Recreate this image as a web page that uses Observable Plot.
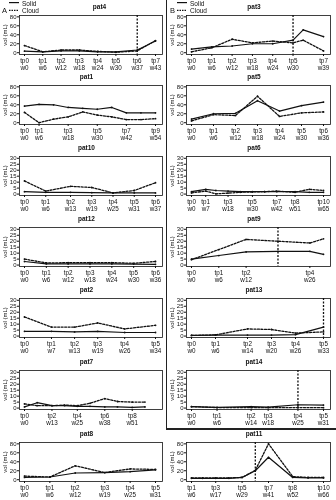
<!DOCTYPE html>
<html><head><meta charset="utf-8">
<script src="https://cdn.jsdelivr.net/npm/d3@7"></script>
<script src="https://cdn.jsdelivr.net/npm/@observablehq/plot@0.6"></script>
<style>
body{margin:0;background:#fff;font-family:"Liberation Sans",Arial,sans-serif;}
#root{position:relative;width:336px;height:500px;overflow:hidden;background:#fff;filter:grayscale(1);-webkit-font-smoothing:antialiased;}
.abs{position:absolute;}
.title{font-size:6.5px;font-weight:bold;line-height:7px;transform:translateX(-50%);white-space:nowrap;color:#111;}
.lbl{font-size:6.5px;line-height:7px;color:#111;white-space:nowrap;}
.big{font-size:7.5px;line-height:8px;color:#111;}
</style></head><body><div id="root"></div>
<script>
// ---------- data ----------
const pat4_weeks = [0,6,12,18,24,30,37,43];
const pat4_solid = [3.5,2,4,4,2,2,6,26];
const pat4_cloud = [16,2,6,6,3,1,4,27];
const pat4_tickW = [0,6,12,18,24,30,37,43];
const pat4_tickTp = ["tp0","tp1","tp2","tp3","tp4","tp5","tp6","tp7"];
const pat4_event = 37;

const pat1_weeks = [0,6,12,18,24,30,36,42,48,54];
const pat1_solid = [37,41,40,34,32,30,34,22,22,22];
const pat1_cloud = [23,0,8,13,24,17,13,7,7,9];
const pat1_tickW = [0,6,18,30,42,54];
const pat1_tickTp = ["tp0","tp1","tp3","tp5","tp7","tp9"];

const pat10_weeks = [0,6,13,19,25,31,37];
const pat10_solid = [2,1.5,1.5,1.2,1,1,1];
const pat10_cloud = [11,2.5,6.5,5.5,1,3,9.5];
const pat10_tickW = [0,6,13,19,25,31,37];
const pat10_tickTp = ["tp0","tp1","tp2","tp3","tp4","tp5","tp6"];

const pat12_weeks = [0,6,12,18,24,30,36];
const pat12_solid = [3,1,1,1,1,0.8,0.6];
const pat12_cloud = [5,1.8,2,2,2,1.5,3];
const pat12_tickW = [0,6,12,18,24,30,36];
const pat12_tickTp = ["tp0","tp1","tp2","tp3","tp4","tp5","tp6"];

const pat2_weeks = [0,7,13,19,26,34];
const pat2_solid = [4,4,3.5,4,3,3];
const pat2_cloud = [16,7.5,7.5,11,6,9];
const pat2_tickW = [0,7,13,19,26,34];
const pat2_tickTp = ["tp0","tp1","tp2","tp3","tp4","tp5"];

const pat7_weeks = [0,6,13,19,25,31,38,44,51,57];
const pat7_solid = [1,4.5,2,2,1.5,1.5,1,1,0.5,1];
const pat7_cloud = [3.5,2,2,2.5,2,4,8,5.5,5,5];
const pat7_tickW = [0,13,25,38,51];
const pat7_tickTp = ["tp0","tp2","tp4","tp6","tp8"];

const pat8_weeks = [0,6,12,19,25,31];
const pat8_solid = [5,6,15,16,18,22];
const pat8_cloud = [8,6,31,16,24,23];
const pat8_tickW = [0,6,12,19,25,31];
const pat8_tickTp = ["tp0","tp1","tp2","tp3","tp4","tp5"];

const pat3_weeks = [0,6,12,18,24,30,33,39];
const pat3_solid = [8,13,15,20,20,28,51,36];
const pat3_cloud = [2,11,30,22,26,22,28,4];
const pat3_tickW = [0,6,12,18,24,30,39];
const pat3_tickTp = ["tp0","tp1","tp2","tp3","tp4","tp5","tp7"];
const pat3_event = 30;

const pat5_weeks = [0,6,12,18,24,30,36];
const pat5_solid = [8,20,21,49,26,38,46];
const pat5_cloud = [4,18,16,59,14,22,24];
const pat5_tickW = [0,6,12,18,24,30,36];
const pat5_tickTp = ["tp0","tp1","tp2","tp3","tp4","tp5","tp6"];

const pat6_weeks = [0,7,12,18,24,30,36,42,51,58,65];
const pat6_solid = [2,4,3,2.5,2,2,2,2,2,1.5,1.5];
const pat6_cloud = [1,2.5,0.2,0.8,1.5,1.8,2,2.5,1.5,4,3];
const pat6_tickW = [0,7,18,30,42,51,65];
const pat6_tickTp = ["tp0","tp1","tp3","tp5","tp7","tp8","tp10"];

const pat9_weeks = [0,6,12,19,26,29];
const pat9_solid = [5,8,11,11.5,11.5,9];
const pat9_cloud = [4.5,13,21.5,20,18.5,22];
const pat9_tickW = [0,6,12,26];
const pat9_tickTp = ["tp0","tp1","tp2","tp4"];
const pat9_event = 19;

const pat13_weeks = [0,6,14,20,26,33];
const pat13_solid = [0.5,0.8,0.8,0.8,1.2,7.5];
const pat13_cloud = [0.5,1,6,5.5,2.5,3.5];
const pat13_tickW = [0,6,14,20,26,33];
const pat13_tickTp = ["tp0","tp1","tp2","tp3","tp4","tp5"];
const pat13_event = 33;

const pat14_weeks = [0,6,14,18,25,31];
const pat14_solid = [1.2,0.5,1.2,0.8,2.8,2.5];
const pat14_cloud = [1.2,0.4,0.4,0.3,0.4,0.3];
const pat14_tickW = [0,6,14,18,25,31];
const pat14_tickTp = ["tp0","tp1","tp2","tp3","tp4","tp5"];
const pat14_event = 25;

const pat11_weeks = [6,11,17,23,29,35,41,52,59,66];
const pat11_solid = [3,3,3,3,5,20,50,5,4,4];
const pat11_cloud = [4,4,4,4,5,21,80,7,5,5];
const pat11_tickW = [6,17,29,41,52,66];
const pat11_tickTp = ["tp1","tp3","tp5","tp7","tp8","tp10"];
const pat11_event = 35;

const legendLabels = ["Solid","Cloud"];
const panelLetters = ["A","B"];
const yLabel = "vol (mL)";
const yTicks80 = [0,20,40,60,80];
const yTicks30 = [0,5,10,15,20,25,30];

// ---------- layout ----------
const panels = [
  {name:"pat4", col:0,row:0, w:pat4_weeks,s:pat4_solid,c:pat4_cloud,tw:pat4_tickW,tt:pat4_tickTp,big:true,ev:pat4_event, tdx:13},
  {name:"pat1", col:0,row:1, w:pat1_weeks,s:pat1_solid,c:pat1_cloud,tw:pat1_tickW,tt:pat1_tickTp,big:true},
  {name:"pat10",col:0,row:2, w:pat10_weeks,s:pat10_solid,c:pat10_cloud,tw:pat10_tickW,tt:pat10_tickTp,big:false},
  {name:"pat12",col:0,row:3, w:pat12_weeks,s:pat12_solid,c:pat12_cloud,tw:pat12_tickW,tt:pat12_tickTp,big:false},
  {name:"pat2", col:0,row:4, w:pat2_weeks,s:pat2_solid,c:pat2_cloud,tw:pat2_tickW,tt:pat2_tickTp,big:false},
  {name:"pat7", col:0,row:5, w:pat7_weeks,s:pat7_solid,c:pat7_cloud,tw:pat7_tickW,tt:pat7_tickTp,big:false,xmax:62},
  {name:"pat8", col:0,row:6, w:pat8_weeks,s:pat8_solid,c:pat8_cloud,tw:pat8_tickW,tt:pat8_tickTp,big:true},
  {name:"pat3", col:1,row:0, w:pat3_weeks,s:pat3_solid,c:pat3_cloud,tw:pat3_tickW,tt:pat3_tickTp,big:true,ev:pat3_event},
  {name:"pat5", col:1,row:1, w:pat5_weeks,s:pat5_solid,c:pat5_cloud,tw:pat5_tickW,tt:pat5_tickTp,big:true},
  {name:"pat6", col:1,row:2, w:pat6_weeks,s:pat6_solid,c:pat6_cloud,tw:pat6_tickW,tt:pat6_tickTp,big:false},
  {name:"pat9", col:1,row:3, w:pat9_weeks,s:pat9_solid,c:pat9_cloud,tw:pat9_tickW,tt:pat9_tickTp,big:false,ev:pat9_event},
  {name:"pat13",col:1,row:4, w:pat13_weeks,s:pat13_solid,c:pat13_cloud,tw:pat13_tickW,tt:pat13_tickTp,big:false,ev:pat13_event},
  {name:"pat14",col:1,row:5, w:pat14_weeks,s:pat14_solid,c:pat14_cloud,tw:pat14_tickW,tt:pat14_tickTp,big:false,ev:pat14_event},
  {name:"pat11",col:1,row:6, w:pat11_weeks,s:pat11_solid,c:pat11_cloud,tw:pat11_tickW,tt:pat11_tickTp,big:true,ev:pat11_event}
];

const rowTops = [15,85,156,227,298,370,442];
const frameH = 39;
const colX = [0,168];
const colW = [166,168];
const mL = [19,18], mR = [4,6];
const mT = 2, mB = 19;
const FONT = '"Liberation Sans", Arial, sans-serif';
const INK = "#111";

const root = document.getElementById("root");
function addDiv(cls, x, y, text, extra) {
  const d = document.createElement("div");
  d.className = "abs " + cls;
  d.style.left = x + "px"; d.style.top = y + "px";
  if (text != null) d.textContent = text;
  if (extra) Object.assign(d.style, extra);
  root.appendChild(d);
  return d;
}

for (const p of panels) {
  const data = p.w.map((w,i) => ({w, s:p.s[i], c:p.c[i]}));
  const fmt = v => { const i = p.tw.indexOf(v); return p.tt[i] + "\nw" + v; };
  const marks = [
    Plot.frame({stroke:INK, strokeWidth:0.8}),
    Plot.axisX({ticks:p.tw, tickFormat:fmt, tickSize:2, tickPadding:1, fontSize:6.3, lineHeight:1.2, label:null}),
    Plot.axisY({ticks:p.big?yTicks80:yTicks30, tickSize:2, tickPadding:1, fontSize:6,
                label:yLabel, labelAnchor:"center", labelArrow:"none", labelOffset:16.5, fontSize:6}),
    Plot.line(data,{x:"w",y:"s",stroke:INK,strokeWidth:1.2}),
    Plot.line(data,{x:"w",y:"c",stroke:INK,strokeWidth:1.3,strokeDasharray:"2,1.5"}),
    Plot.dot(data,{x:"w",y:"s",r:0.9,fill:INK}),
    Plot.dot(data,{x:"w",y:"c",r:0.9,fill:INK})
  ];
  if (p.ev != null) marks.push(Plot.ruleX([p.ev],{stroke:INK,strokeWidth:1.3,strokeDasharray:"2,1.5"}));
  const svg = Plot.plot({
    width: colW[p.col], height: mT + frameH + mB,
    marginLeft: mL[p.col], marginRight: mR[p.col], marginTop: mT, marginBottom: mB,
    x: {domain:[p.w[0], p.xmax ?? p.w[p.w.length-1]], insetLeft:5, insetRight:7},
    y: {domain: p.big ? [-4,83] : [-1.2,31.5]},
    marks,
    style: {fontFamily:FONT, fontSize:"6.3px", background:"transparent", color:INK, overflow:"visible"}
  });
  const holder = addDiv("", colX[p.col], rowTops[p.row] - mT);
  holder.appendChild(svg);
  const fx = colX[p.col] + (mL[p.col] + colW[p.col] - mR[p.col]) / 2 - 4 + (p.tdx || 0);
  addDiv("title", fx, rowTops[p.row] - 12, p.name);
}

// panel letters and legends
for (let k = 0; k < 2; k++) {
  const x0 = colX[k];
  addDiv("big", x0 + 2, 7, panelLetters[k]);
  const lg = Plot.plot({
    width: 10, height: 14, margin: 0,
    x: {domain:[0,1], axis:null}, y: {domain:[0,1], axis:null},
    marks: [
      Plot.ruleY([0.85],{x1:0,x2:1,stroke:INK,strokeWidth:1.2}),
      Plot.ruleY([0.3],{x1:0,x2:1,stroke:INK,strokeWidth:1.3,strokeDasharray:"1.5,1"})
    ],
    style:{background:"transparent", overflow:"visible"}
  });
  const h = addDiv("", x0 + 9, 0);
  h.appendChild(lg);
  addDiv("lbl", x0 + 22, 0, legendLabels[0]);
  addDiv("lbl", x0 + 22, 7, legendLabels[1]);
}

// separators
addDiv("", 166, 0, null, {width:"1px", height:"429px", background:"#222"});
addDiv("", 166, 428, null, {width:"170px", height:"1.5px", background:"#222"});
</script>
</body></html>
